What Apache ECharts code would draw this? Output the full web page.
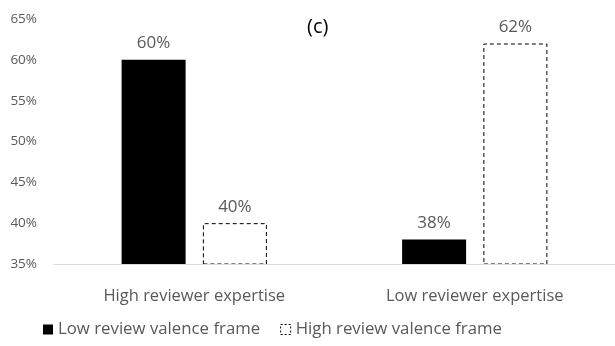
<!DOCTYPE html>
<html>
<head>
<meta charset="utf-8">
<script src="https://cdn.jsdelivr.net/npm/echarts@6/dist/echarts.min.js"></script>
<style>
  html, body { margin: 0; padding: 0; background: #fff; }
  #chart { width: 615px; height: 346px; }
</style>
</head>
<body>
<div id="chart"></div>
<script>
// Share of choices by reviewer expertise and review valence frame (%)
const categories = ['High reviewer expertise', 'Low reviewer expertise'];
const lowValence = [60, 38];
const highValence = [40, 62];
const yTicks = { min: 35, max: 65, step: 5 };

const FONT = '"Open Sans", "DejaVu Sans", sans-serif';
const GREY = '#595959';

const chart = echarts.init(document.getElementById('chart'), null, { renderer: 'canvas' });

chart.setOption({
  animation: false,
  textStyle: { fontFamily: FONT },
  title: {
    text: '(c)',
    left: 302,
    top: 12,
    textStyle: { fontFamily: FONT, fontSize: 20, fontWeight: 'normal', color: '#000' }
  },
  grid: { left: 54, right: -5, top: 19, bottom: 82 },
  legend: {
    bottom: 3,
    left: 38,
    itemWidth: 10,
    itemHeight: 10,
    itemGap: 20,
    textStyle: { fontFamily: FONT, fontSize: 16.8, color: GREY },
    data: [
      { name: 'Low review valence frame', icon: 'rect' },
      {
        name: 'High review valence frame', icon: 'rect',
        itemStyle: { color: '#fff', borderColor: '#000', borderWidth: 1, borderType: [2, 2] }
      }
    ]
  },
  xAxis: {
    type: 'category',
    data: categories,
    z: 5,
    axisLine: { lineStyle: { color: '#d9d9d9', width: 1 } },
    axisTick: { show: false },
    axisLabel: { fontFamily: FONT, fontSize: 16.5, color: GREY, margin: 24 }
  },
  yAxis: {
    type: 'value',
    min: yTicks.min,
    max: yTicks.max,
    interval: yTicks.step,
    axisLine: { show: false },
    axisTick: { show: false },
    splitLine: { show: false },
    axisLabel: { fontFamily: FONT, fontSize: 13.5, color: GREY, margin: 17, formatter: '{value}%' }
  },
  series: [
    {
      name: 'Low review valence frame',
      type: 'bar',
      data: lowValence,
      barWidth: 64,
      barGap: '27%',
      itemStyle: { color: '#000' },
      label: {
        show: true, position: 'top', distance: 8,
        fontFamily: FONT, fontSize: 17, color: GREY, formatter: '{c}%'
      }
    },
    {
      name: 'High review valence frame',
      type: 'bar',
      data: highValence,
      barWidth: 64,
      itemStyle: { color: '#fff', borderColor: '#000', borderWidth: 1, borderType: [4, 3] },
      label: {
        show: true, position: 'top', distance: 8,
        fontFamily: FONT, fontSize: 17, color: GREY, formatter: '{c}%'
      }
    }
  ]
});
</script>
</body>
</html>
